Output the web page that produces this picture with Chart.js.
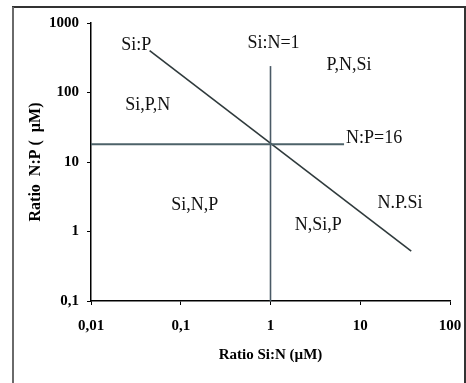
<!DOCTYPE html>
<html lang="en">
<head>
<meta charset="utf-8">
<script src="https://cdn.jsdelivr.net/npm/chart.js@4/dist/chart.umd.min.js"></script>
<style>
    html, body {margin:0; padding:0; background:#fff; overflow:hidden}
    .reportGraph {width:466px; height:383px}
</style>
</head>
<body>

<div class="reportGraph"><canvas id="canvas" width="466" height="383"></canvas></div>

<script type="text/javascript">
'use strict';

// axis ticks
var xTicks = [0.01, 0.1, 1, 10, 100];
var yTicks = [0.1, 1, 10, 100, 1000];

// limit lines (Si:N ratio, N:P ratio)
var npLineX = [0.01, 6.6];
var npLineY = [18, 18];
var siNLineX = [1, 1];
var siNLineY = [0.1, 240];
var siPLineX = [0.045, 37];
var siPLineY = [400, 0.52];

// region labels
var labelTexts = ["Si:P", "Si:N=1", "P,N,Si", "Si,P,N", "N:P=16", "Si,N,P", "N.P.Si", "N,Si,P"];
var labelX = [0.032, 1.08, 7.5, 0.043, 14.3, 0.143, 27.8, 3.4];
var labelY = [480, 515, 250, 66, 22, 2.4, 2.57, 1.24];

function toPoints(xs, ys) {
    return xs.map(function(x, i) { return {x: x, y: ys[i]}; });
}

function commaLabel(value) {
    return String(value).replace('.', ',');
}

var framePlugin = {
    id: 'frame',
    beforeDraw: function(chart) {
        var ctx = chart.ctx;
        ctx.save();
        ctx.fillStyle = '#fff';
        ctx.fillRect(0, 0, chart.width, chart.height);
        ctx.lineWidth = 2;
        ctx.strokeStyle = '#333';
        ctx.beginPath();
        ctx.moveTo(12, 7);
        ctx.lineTo(465, 7);
        ctx.lineTo(465, 383);
        ctx.stroke();
        ctx.strokeStyle = '#6a6a6a';
        ctx.beginPath();
        ctx.moveTo(13, 7);
        ctx.lineTo(13, 383);
        ctx.stroke();
        ctx.restore();
    }
};

var labelPlugin = {
    id: 'regionLabels',
    afterDatasetsDraw: function(chart) {
        var ctx = chart.ctx;
        var xs = chart.scales.x, ys = chart.scales.y;
        ctx.save();
        ctx.font = '18px "Liberation Serif", serif';
        ctx.fillStyle = '#111';
        ctx.textAlign = 'center';
        ctx.textBaseline = 'middle';
        labelTexts.forEach(function(t, i) {
            ctx.fillText(t, xs.getPixelForValue(labelX[i]), ys.getPixelForValue(labelY[i]));
        });
        ctx.restore();
    }
};

function lineSet(xs, ys, color, width) {
    return {
        data: toPoints(xs, ys),
        showLine: true,
        borderColor: color,
        borderWidth: width,
        pointRadius: 0,
        fill: false
    };
}

function drawGraphs() {
    var tickFont = {family: '"Liberation Serif", serif', size: 15, weight: 'bold'};
    var xTitleFont = {family: '"Liberation Serif", serif', size: 15, weight: 'bold'};
    var yTitleFont = {family: '"Liberation Serif", serif', size: 16, weight: 'bold'};
    new Chart(
        document.getElementById("canvas"), {
            type: "scatter",
            data: {
                datasets: [
                    lineSet(npLineX, npLineY, '#4d6269', 2.2),
                    lineSet(siNLineX, siNLineY, '#4a5a66', 1.6),
                    lineSet(siPLineX, siPLineY, '#2f3a3c', 1.6)
                ]
            },
            options: {
                responsive: false,
                animation: false,
                layout: {padding: {left: 22, top: 23, right: 16, bottom: 15}},
                plugins: {legend: {display: false}, tooltip: {enabled: false}},
                scales: {
                    x: {
                        type: 'logarithmic',
                        min: 0.01,
                        max: 100,
                        afterBuildTicks: function(scale) {
                            scale.ticks = xTicks.map(function(v) { return {value: v}; });
                        },
                        afterFit: function(scale) {
                            scale.height = 67;
                            scale.paddingLeft = 0;
                            scale.paddingRight = 0;
                        },
                        ticks: {color: '#000', font: tickFont, padding: 12, maxRotation: 0, autoSkip: false, callback: commaLabel},
                        grid: {drawOnChartArea: false, drawTicks: true, tickLength: 4, color: '#000'},
                        border: {color: '#000', width: 1.5},
                        title: {display: true, text: 'Ratio Si:N (µM)', color: '#000', font: xTitleFont, padding: 4}
                    },
                    y: {
                        type: 'logarithmic',
                        min: 0.1,
                        max: 1000,
                        afterBuildTicks: function(scale) {
                            scale.ticks = yTicks.map(function(v) { return {value: v}; });
                        },
                        afterFit: function(scale) { scale.width = 69; },
                        ticks: {color: '#000', font: tickFont, padding: 8, autoSkip: false, callback: commaLabel},
                        grid: {drawOnChartArea: false, drawTicks: true, tickLength: 4, color: '#000'},
                        border: {color: '#000', width: 1.5},
                        title: {display: true, text: 'Ratio  N:P (  µM)', color: '#000', font: yTitleFont, padding: 4}
                    }
                }
            },
            plugins: [framePlugin, labelPlugin]
        }
    );
}
window.onload = function() {
    drawGraphs();
};
</script>
</body>
</html>
